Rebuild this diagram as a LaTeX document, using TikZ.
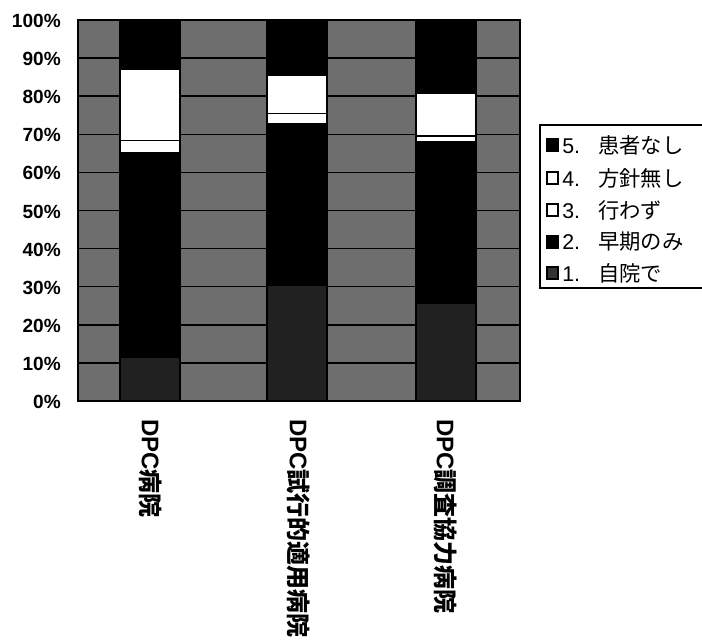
\documentclass[tikz,border=0pt]{standalone}
\usepackage{fontspec}
\setmainfont{Liberation Sans}
\newfontfamily\cjk{Noto Sans CJK JP}
\newcommand\barseg[4]{\path[#4] ({#1-30},{401-3.81*#2}) rectangle ({#1+30},{401-3.81*#3});}
\begin{document}
\begin{tikzpicture}[x=0.75pt,y=-0.75pt,
  plotbg/.style={fill=black!57},
  gridline/.style={draw=black,line width=1.1pt},
  frame/.style={draw=black,line width=1.4pt},
  segdot/.style={fill=black!87,draw=black,line width=0.8pt},
  segblack/.style={fill=black,draw=black,line width=0.8pt},
  segwhite/.style={fill=white,draw=black,line width=1.1pt},
  ylab/.style={anchor=east,inner sep=0pt,font=\bfseries\fontsize{14.3}{14.3}\selectfont},
  xlab/.style={rotate=-90,anchor=west,inner sep=0pt,font=\bfseries\fontsize{18}{18}\selectfont},
  legtext/.style={anchor=west,inner sep=0pt,font=\fontsize{16}{16}\selectfont},
  legmark/.style={minimum size=8.5pt,inner sep=0pt,line width=1.4pt}
]
\useasboundingbox (0,0) rectangle (702,643);
% plot area
\fill[plotbg] (78,20) rectangle (520,401);
\foreach \p in {10,20,...,90} {\draw[gridline] (78,{401-3.81*\p}) -- (520,{401-3.81*\p});}
% bars
\barseg{150}{0}{11.5}{segdot}
\barseg{150}{11.5}{65.2}{segblack}
\barseg{150}{65.2}{68.4}{segwhite}
\barseg{150}{68.4}{87.1}{segwhite}
\barseg{150}{87.1}{100}{segblack}
\barseg{297}{0}{30.4}{segdot}
\barseg{297}{30.4}{72.7}{segblack}
\barseg{297}{72.7}{75.5}{segwhite}
\barseg{297}{75.5}{85.5}{segwhite}
\barseg{297}{85.5}{100}{segblack}
\barseg{446}{0}{25.6}{segdot}
\barseg{446}{25.6}{68}{segblack}
\barseg{446}{68}{69.5}{segwhite}
\barseg{446}{69.5}{80.8}{segwhite}
\barseg{446}{80.8}{100}{segblack}
\draw[frame] (78,20) rectangle (520,401);
% y labels
\foreach \p in {0,10,...,100} {\node[ylab] (y\p) at (61,{402-3.81*\p}) {\p\%};}
% x labels
\node[xlab] (x1) at (151,419) {DPC{\cjk 病院}};
\node[xlab] (x2) at (299,419) {DPC{\cjk 試行的適用病院}};
\node[xlab] (x3) at (446,419) {DPC{\cjk 調査協力病院}};
% legend
\draw[line width=1pt] (702,125) -- (540,125) -- (540,288) -- (702,288);
\node[legmark,fill=black,draw=black] (m5) at (552.5,145) {};
\node[legmark,fill=white,draw=black] (m4) at (552.5,178) {};
\node[legmark,fill=white,draw=black] (m3) at (552.5,210) {};
\node[legmark,fill=black,draw=black] (m2) at (552.5,242) {};
\node[legmark,fill=black!80,draw=black] (m1) at (552.5,273) {};
\node[legtext] (l5) at (562,145) {5.\hspace{0.85em}{\cjk 患者なし}};
\node[legtext] (l4) at (562,178) {4.\hspace{0.85em}{\cjk 方針無し}};
\node[legtext] (l3) at (562,210) {3.\hspace{0.85em}{\cjk 行わず}};
\node[legtext] (l2) at (562,242) {2.\hspace{0.85em}{\cjk 早期のみ}};
\node[legtext] (l1) at (562,273) {1.\hspace{0.85em}{\cjk 自院で}};
\end{tikzpicture}
\end{document}
